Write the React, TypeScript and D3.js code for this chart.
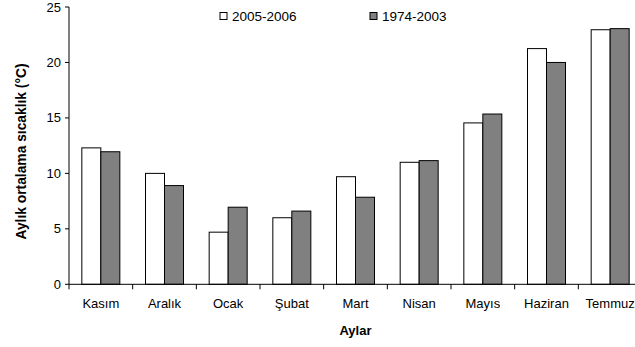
import React from "react";
import * as d3 from "d3";

const months = ["Kasım", "Aralık", "Ocak", "Şubat", "Mart", "Nisan", "Mayıs", "Haziran", "Temmuz"];
const series2005 = [12.3, 10.0, 4.7, 6.0, 9.7, 11.0, 14.55, 21.25, 22.95];
const series1974 = [11.95, 8.9, 6.95, 6.6, 7.85, 11.15, 15.35, 20.0, 23.05];
const seriesNames = ["2005-2006", "1974-2003"];
const seriesFills = ["#ffffff", "#808080"];
const yTicks = [0, 5, 10, 15, 20, 25];

const W = 635;
const H = 347;
const left = 69;
const right = 642;
const top = 7;
const bottom = 284.3;
const FONT = "'Liberation Sans', Arial, Helvetica, sans-serif";

export default function App() {
  const x = d3.scaleBand<string>().domain(months).range([left, right]).paddingInner(0).paddingOuter(0);
  const y = d3.scaleLinear().domain([0, 25]).range([bottom, top]);
  const bw = x.bandwidth();
  const barW = 19;
  const inner = d3.scaleBand<string>().domain(seriesNames).range([(bw - 2 * barW) / 2, (bw + 2 * barW) / 2]);
  const data = [series2005, series1974];
  const boundaries = d3.range(months.length + 1).map((i) => left + i * bw);

  return (
    <svg width={W} height={H} style={{ position: "absolute", left: 0, top: 0, background: "#fff" }} fontFamily={FONT}>
      {/* bars */}
      {months.map((m, i) => (
        <g key={m}>
          {data.map((s, j) => (
            <rect
              key={j}
              x={(x(m) as number) + (inner(seriesNames[j]) as number)}
              y={y(s[i])}
              width={inner.bandwidth()}
              height={y(0) - y(s[i])}
              fill={seriesFills[j]}
              stroke="#000"
              strokeWidth={1}
            />
          ))}
        </g>
      ))}
      {/* y axis */}
      <line x1={left} x2={left} y1={y(25)} y2={y(0)} stroke="#000" strokeWidth={1} />
      {yTicks.map((t) => (
        <g key={t}>
          <line x1={left - 4} x2={left} y1={y(t)} y2={y(t)} stroke="#000" />
          <text x={left - 8} y={y(t)} dy="0.35em" textAnchor="end" fontSize={13} fill="#000">
            {t}
          </text>
        </g>
      ))}
      {/* x axis */}
      <line x1={left} x2={right} y1={y(0)} y2={y(0)} stroke="#000" strokeWidth={1} />
      {boundaries.map((b, i) => (
        <line key={i} x1={b} x2={b} y1={y(0)} y2={y(0) + 5} stroke="#000" />
      ))}
      {months.map((m) => (
        <text key={m} x={(x(m) as number) + bw / 2} y={308} textAnchor="middle" fontSize={13} fill="#000">
          {m}
        </text>
      ))}
      {/* axis titles */}
      <text x={(left + right) / 2} y={335} textAnchor="middle" fontSize={13} fontWeight="bold" fill="#000">
        Aylar
      </text>
      <text
        transform={`translate(25.5, 151.5) rotate(-90)`}
        textAnchor="middle"
        fontSize={13.8}
        fontWeight="bold"
        fill="#000"
      >
        Aylık ortalama sıcaklık (°C)
      </text>
      {/* legend */}
      {seriesNames.map((n, j) => (
        <g key={n} transform={`translate(${[220, 370][j]}, 12.5)`}>
          <rect x={0} y={0} width={7} height={7} fill={seriesFills[j]} stroke="#000" />
          <text x={12} y={8} fontSize={13.5} fill="#000">
            {n}
          </text>
        </g>
      ))}
    </svg>
  );
}
